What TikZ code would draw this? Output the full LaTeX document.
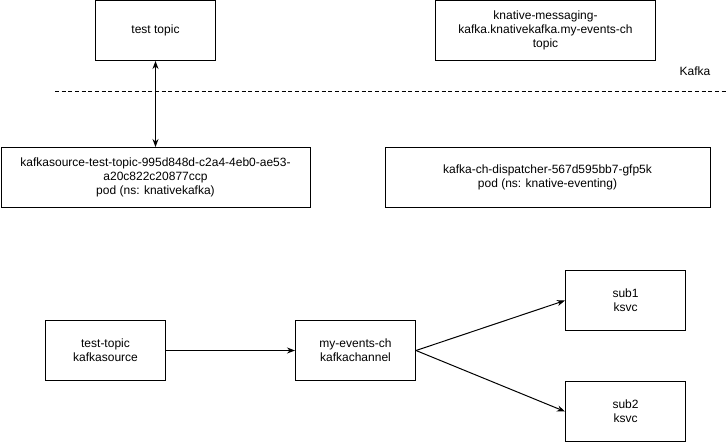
\documentclass[tikz,border=0pt]{standalone}
\usepackage{fontspec}
\setmainfont{Liberation Sans}
\usetikzlibrary{arrows.meta}
\begin{document}
\begin{tikzpicture}[x=0.75pt,y=-0.75pt,
  box/.style={draw=black,line width=0.75pt,fill=white,inner sep=0pt,align=center,
    font=\fontsize{9}{10.6}\selectfont},
  conn/.style={line width=0.75pt,-{Stealth[length=6pt,width=4.5pt]}}]
\useasboundingbox (0,0) rectangle (727,443);
\node[box,minimum width=120*0.75pt,minimum height=60*0.75pt] (tt) at (155.5,30.5) {test topic};
\node[box,minimum width=220*0.75pt,minimum height=60*0.75pt] (kt) at (545.5,30.5) {knative-messaging-\\kafka.knativekafka.my-events-ch\\topic};
\node[font=\fontsize{9}{10.6}\selectfont,inner sep=0pt] (kafka) at (695,71) {Kafka};
\coordinate (dl) at (55,91);
\coordinate (dr) at (727,91);
\draw[line width=0.75pt,dash pattern=on 3pt off 2pt] (dl) -- (dr);
\node[box,minimum width=309*0.75pt,minimum height=60*0.75pt] (ksp) at (155.5,177.5) {kafkasource-test-topic-995d848d-c2a4-4eb0-ae53-\\a20c822c20877ccp\\pod (ns: knativekafka)};
\node[box,minimum width=325*0.75pt,minimum height=60*0.75pt] (disp) at (547.5,177.5) {kafka-ch-dispatcher-567d595bb7-gfp5k\\pod (ns: knative-eventing)};
\draw[line width=0.75pt,{Stealth[length=6pt,width=4.5pt]}-{Stealth[length=6pt,width=4.5pt]}] (tt.south) -- (ksp.north);
\node[box,minimum width=120*0.75pt,minimum height=60*0.75pt] (src) at (105.5,350.5) {test-topic\\kafkasource};
\node[box,minimum width=120*0.75pt,minimum height=60*0.75pt] (ch) at (355.5,350.5) {my-events-ch\\kafkachannel};
\node[box,minimum width=120*0.75pt,minimum height=60*0.75pt] (s1) at (625.5,300.5) {sub1\\ksvc};
\node[box,minimum width=120*0.75pt,minimum height=60*0.75pt] (s2) at (625.5,411.5) {sub2\\ksvc};
\draw[conn] (src.east) -- (ch.west);
\draw[conn] (ch.east) -- (s1.west);
\draw[conn] (ch.east) -- (s2.west);
\end{tikzpicture}
\end{document}
